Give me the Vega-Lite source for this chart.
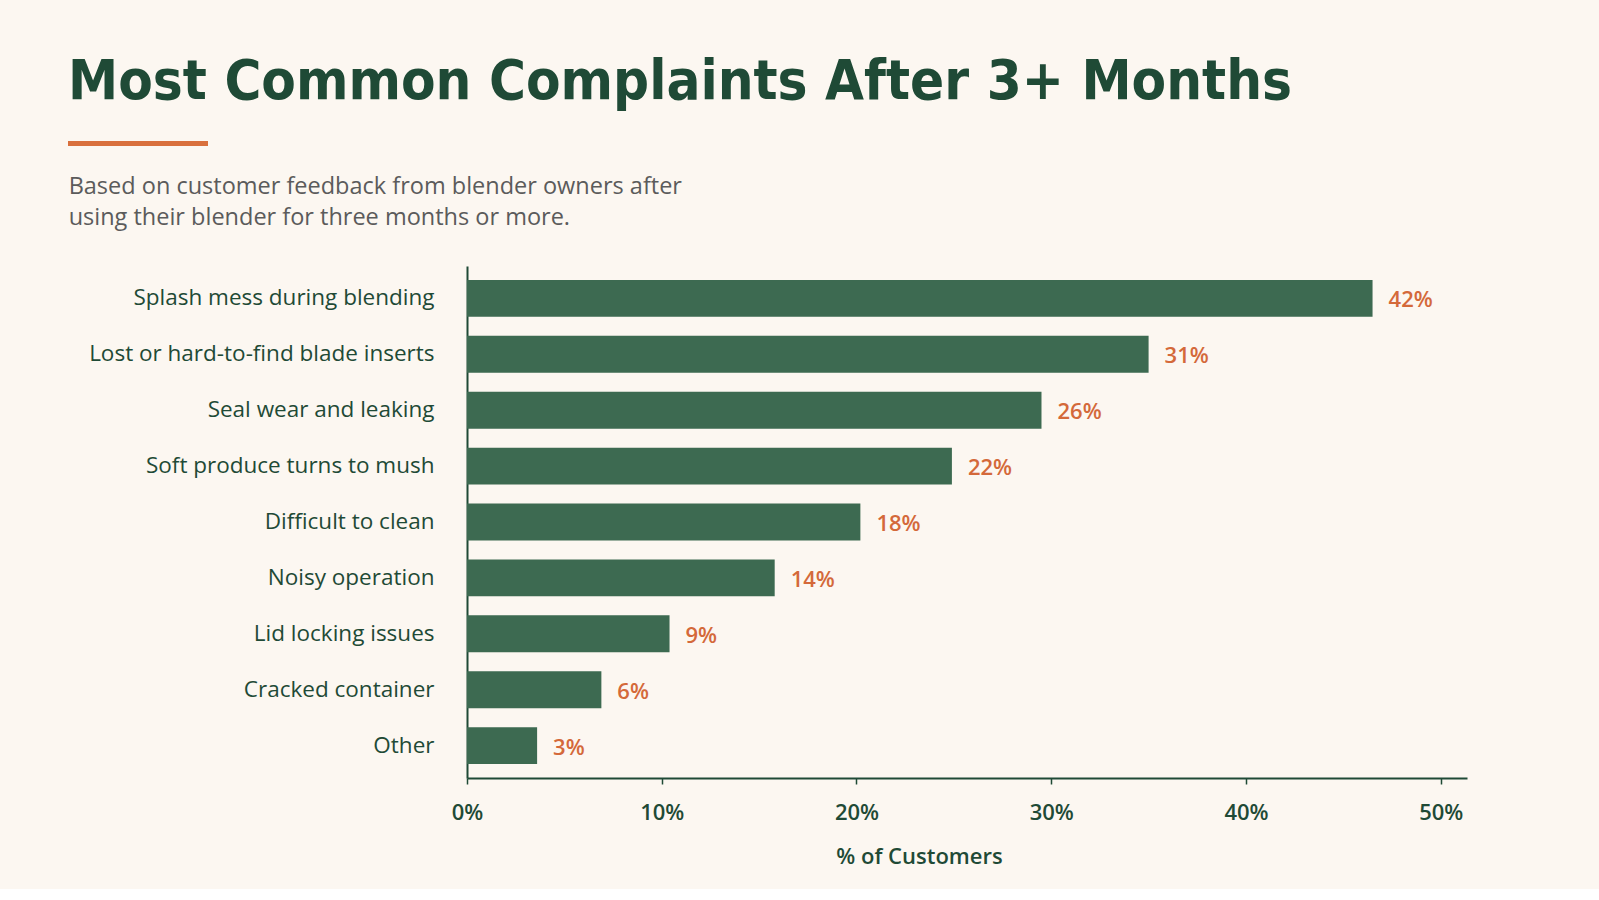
{
  "$schema": "https://vega.github.io/schema/vega-lite/v6.json",
  "background": "#fcf7f1",
  "padding": {"left": 68, "top": 54, "right": 133, "bottom": 22},
  "title": {
    "text": "Most Common Complaints After 3+ Months",
    "anchor": "start",
    "font": "DejaVu Sans Condensed, Roboto",
    "fontSize": 56,
    "fontWeight": "bold",
    "color": "#1f4a36",
    "offset": 30
  },
  "datasets": {
    "complaints": [
      {"complaint": "Splash mess during blending", "bar_length": 46.5, "label": "42%"},
      {"complaint": "Lost or hard-to-find blade inserts", "bar_length": 35.0, "label": "31%"},
      {"complaint": "Seal wear and leaking", "bar_length": 29.5, "label": "26%"},
      {"complaint": "Soft produce turns to mush", "bar_length": 24.9, "label": "22%"},
      {"complaint": "Difficult to clean", "bar_length": 20.2, "label": "18%"},
      {"complaint": "Noisy operation", "bar_length": 15.8, "label": "14%"},
      {"complaint": "Lid locking issues", "bar_length": 10.4, "label": "9%"},
      {"complaint": "Cracked container", "bar_length": 6.9, "label": "6%"},
      {"complaint": "Other", "bar_length": 3.6, "label": "3%"}
    ],
    "accent": [{"start": 0, "end": 1}]
  },
  "columns": 1,
  "align": "none",
  "spacing": 28,
  "config": {"view": {"stroke": null}},
  "concat": [
    {
      "width": 140,
      "height": 5,
      "data": {"name": "accent"},
      "mark": {"type": "rect", "color": "#d9703d", "clip": false},
      "encoding": {
        "x": {"field": "start", "type": "quantitative", "scale": {"domain": [0, 1], "range": [-399, -259], "nice": false}, "axis": null},
        "x2": {"field": "end"}
      }
    },
    {
      "width": 1000,
      "height": 512,
      "title": {
        "text": ["Based on customer feedback from blender owners after", "using their blender for three months or more."],
        "anchor": "start",
        "frame": "bounds",
        "font": "Open Sans",
        "fontSize": 23.5,
        "fontWeight": "normal",
        "color": "#5b5b5b",
        "lineHeight": 31,
        "offset": 37,
        "dx": -20
      },
      "data": {"name": "complaints"},
      "encoding": {
        "y": {
          "field": "complaint",
          "type": "nominal",
          "sort": null,
          "scale": {"paddingInner": 0.34, "paddingOuter": 0.25},
          "axis": {
            "title": null,
            "domain": true,
            "domainColor": "#1f4a36",
            "domainWidth": 2,
            "ticks": false,
            "labelPadding": 33,
            "labelLimit": 0,
            "labelFont": "Open Sans",
            "labelFontSize": 22.5,
            "labelFontWeight": 500,
            "labelColor": "#1f4a36"
          }
        }
      },
      "layer": [
        {
          "mark": {"type": "bar", "color": "#3d6a51"},
          "encoding": {
            "x": {
              "field": "bar_length",
              "type": "quantitative",
              "scale": {"domain": [0, 51.35], "nice": false},
              "axis": {
                "values": [0, 10, 20, 30, 40, 50],
                "labelExpr": "datum.value + '%'",
                "labelFlush": false,
                "title": "% of Customers",
                "titleX": 452,
                "titleFont": "Open Sans",
                "titleFontSize": 22,
                "titleFontWeight": 600,
                "titleColor": "#1f4a36",
                "titlePadding": 23,
                "grid": false,
                "domainColor": "#1f4a36",
                "domainWidth": 2,
                "tickColor": "#1f4a36",
                "tickSize": 6,
                "tickWidth": 1.5,
                "labelPadding": 18,
                "labelFont": "Open Sans",
                "labelFontSize": 22,
                "labelFontWeight": 600,
                "labelColor": "#1f4a36"
              }
            }
          }
        },
        {
          "mark": {
            "type": "text",
            "align": "left",
            "baseline": "middle",
            "dx": 16,
            "dy": 2,
            "font": "Open Sans",
            "fontSize": 22,
            "fontWeight": 600,
            "color": "#d4693a"
          },
          "encoding": {
            "x": {"field": "bar_length", "type": "quantitative"},
            "text": {"field": "label"}
          }
        }
      ]
    }
  ]
}
